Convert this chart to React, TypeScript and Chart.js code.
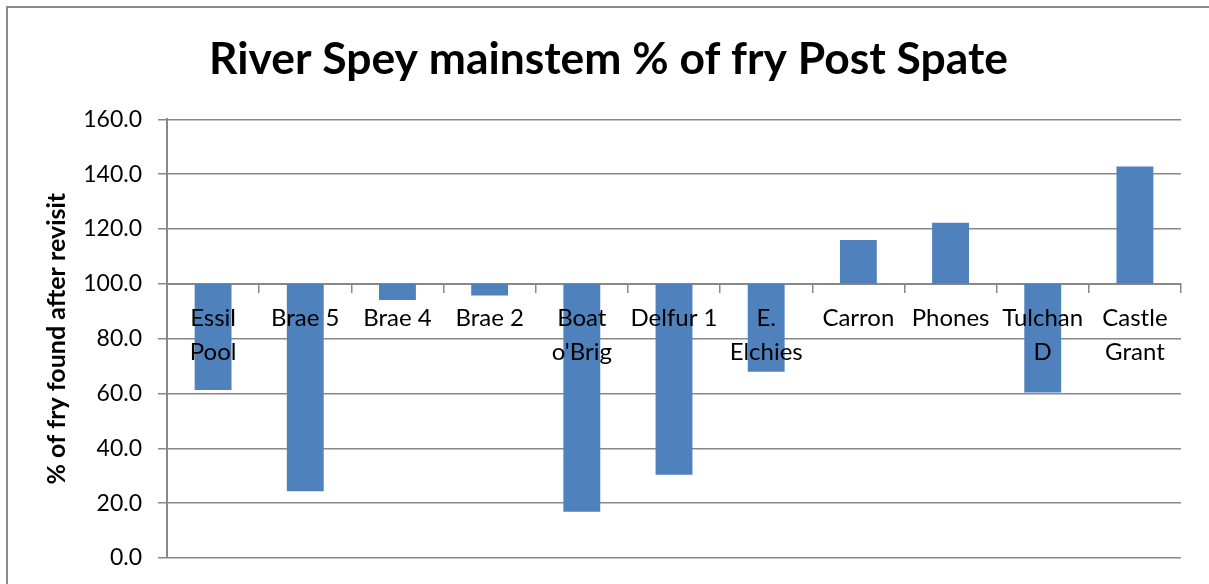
import React, { useEffect, useRef } from "react";
import { Chart, registerables } from "chart.js";

Chart.register(...registerables);

const TITLE = "River Spey mainstem % of fry Post Spate";
const Y_TITLE = "% of fry found after revisit";
const categories: (string | string[])[] = [
  ["Essil", "Pool"],
  "Brae 5",
  "Brae 4",
  "Brae 2",
  ["Boat", "o'Brig"],
  "Delfur 1",
  ["E.", "Elchies"],
  "Carron",
  "Phones",
  ["Tulchan", "D"],
  ["Castle", "Grant"],
];
const baseline = 100;
const values = [61.3, 24.3, 94.1, 95.7, 16.9, 30.4, 67.9, 116.0, 122.3, 60.4, 142.8];
const yMin = 0;
const yMax = 160;
const yStep = 20;

const FONT = "Lato, 'Noto Sans', sans-serif";
const GRID = "#888888";

export default function App() {
  const ref = useRef<HTMLCanvasElement | null>(null);

  useEffect(() => {
    if (!ref.current) return;
    const chart = new Chart(ref.current, {
      type: "bar",
      data: {
        labels: categories,
        datasets: [
          {
            data: values.map((v) => [baseline, v]) as any,
            backgroundColor: "#4F81BD",
            borderWidth: 0,
            barPercentage: 0.4,
            categoryPercentage: 1,
          },
        ],
      },
      options: {
        animation: false,
        responsive: false,
        maintainAspectRatio: false,
        layout: { padding: { left: 36, right: 28, top: 0, bottom: 26 } },
        plugins: {
          legend: { display: false },
          tooltip: { enabled: false },
          title: {
            display: true,
            text: TITLE,
            color: "#000",
            font: { family: FONT, size: 44.4, weight: "bold", lineHeight: 1.2 },
            padding: { top: 33, bottom: 33 },
          },
        },
        scales: {
          x: {
            position: { y: baseline } as any,
            grid: {
              display: true,
              drawOnChartArea: false,
              drawTicks: true,
              tickLength: 8,
              offset: true,
              color: GRID,
              lineWidth: 1.5,
            },
            border: { display: true, color: GRID, width: 2 },
            ticks: {
              color: "#000",
              font: { family: FONT, size: 24, lineHeight: 1.4 },
              padding: 10,
              maxRotation: 0,
              autoSkip: false,
              z: 1,
            } as any,
            afterFit: (s: any) => {
              s.height = 0;
            },
          },
          y: {
            min: yMin,
            max: yMax,
            grid: { color: GRID, lineWidth: 1.5, tickLength: 9 },
            border: { display: true, color: GRID, width: 2 },
            ticks: {
              stepSize: yStep,
              color: "#000",
              font: { family: FONT, size: 23 },
              padding: 16,
              callback: (v: any) => Number(v).toFixed(1),
            },
            title: {
              display: true,
              text: Y_TITLE,
              color: "#000",
              font: { family: FONT, size: 25, weight: "bold", lineHeight: 1.2 },
              padding: { top: 6, bottom: 0 },
            },
            afterFit: (s: any) => {
              s.width = 131;
              s.paddingTop = 0;
              s.paddingBottom = 0;
            },
          },
        },
      },
    });
    return () => chart.destroy();
  }, []);

  return (
    <div
      style={{
        position: "fixed",
        left: 0,
        top: 0,
        width: 1209,
        height: 584,
        overflow: "hidden",
        background: "#fff",
      }}
    >
      <canvas
        ref={ref}
        width={1209}
        height={584}
        style={{ position: "absolute", left: 0, top: 0, width: 1209, height: 584 }}
      />
      <div
        style={{
          position: "absolute",
          left: 6,
          top: 6,
          width: 1300,
          height: 700,
          borderLeft: "2px solid #8a8a8a",
          borderTop: "2px solid #8a8a8a",
          pointerEvents: "none",
        }}
      />
    </div>
  );
}
